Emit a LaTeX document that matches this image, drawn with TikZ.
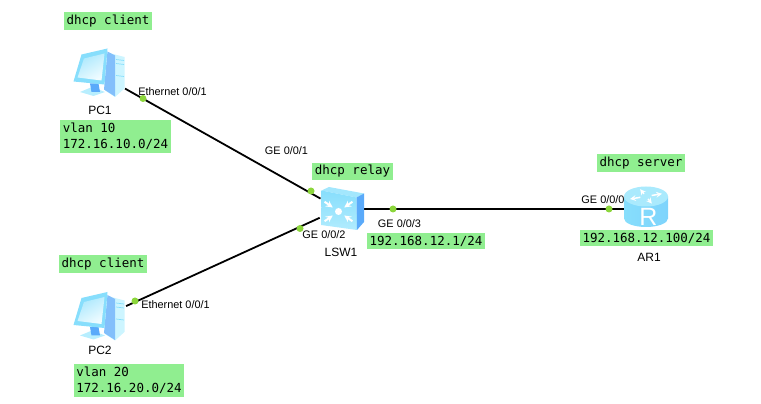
\documentclass[tikz,border=0pt]{standalone}
\usepackage{fontspec}
\usepackage{xcolor}
\setmainfont{Liberation Sans}
\newfontfamily\labelmono{DejaVu Sans Mono}
\definecolor{boxgreen}{RGB}{144,238,144}
\definecolor{portgreen}{RGB}{140,214,60}
\definecolor{iconpale}{RGB}{205,245,255}
\definecolor{iconsky}{RGB}{135,222,252}
\definecolor{iconblue}{RGB}{90,170,250}

\begin{document}
\begin{tikzpicture}[line join=bevel,
        devicenode/.style={shape=circle, inner sep=0pt},
        portdot/.style={shape=circle, fill=portgreen, inner sep=0pt, minimum size=7pt},
        labelbox/.style={fill=boxgreen, font=\labelmono\fontsize{12.5pt}{16.5pt}\selectfont, align=left, inner xsep=2.5pt, inner ysep=2.5pt},
        portlabel/.style={inner sep=0pt, font=\fontsize{10.9pt}{13pt}\selectfont},
        namelabel/.style={inner sep=0pt, font=\fontsize{12pt}{14pt}\selectfont},
        pcicon/.pic={
          % tower
          \fill[iconpale] (7pt, 22pt) -- (15pt, 20pt) -- (24.5pt, 17.5pt) -- (24.5pt, -14pt) -- (15pt, -22.5pt) -- (5pt, -16pt) -- cycle;
          \fill[iconblue!75] (7.5pt, 23pt) -- (15pt, 19pt) -- (15pt, -22pt) -- (4pt, -15pt) -- cycle;
          \foreach \y in {15pt, 11pt, -1pt} {
            \draw[iconsky, line width=.7pt] (16pt, \y) -- (24pt, \y - 1pt);
          }
          % stand
          \fill[iconpale!70!iconsky] (-20pt, -17.5pt) -- (-8pt, -12.5pt) -- (5pt, -17.5pt) -- (-6.5pt, -21.5pt) -- cycle;
          \fill[iconblue] (-10pt, -9pt) -- (-1.5pt, -9pt) -- (0pt, -17.5pt) -- (-8.5pt, -17.5pt) -- cycle;
          % screen
          \fill[iconsky] (-18.5pt, 20pt) -- (7.5pt, 26pt) -- (4.5pt, -10pt) -- (-26.5pt, -7pt) -- cycle;
          \shade[top color=iconsky!70, bottom color=iconpale!30, shading angle=30] (-16pt, 16pt) -- (4.5pt, 21pt) -- (1.5pt, -6pt) -- (-22.5pt, -3pt) -- cycle;
        },
        switchicon/.pic={
          \fill[iconsky!60!iconpale] (-17.5pt, 18.5pt) -- (-10pt, 22pt) -- (25pt, 15.5pt) -- (17.5pt, 11.5pt) -- cycle;
          \shade[top color=iconsky, bottom color=iconsky!40!iconpale] (-17.5pt, 18.5pt) -- (17.5pt, 11.5pt) -- (18pt, -21pt) -- (-18pt, -16pt) -- cycle;
          \fill[iconblue] (17.5pt, 11.5pt) -- (25pt, 15.5pt) -- (25pt, -13pt) -- (18pt, -21pt) -- cycle;
          \fill[white] (-.5pt, -2.5pt) circle (3.5pt);
          \foreach \a in {35, 145, 215, 325} {
            \draw[white, line width=2pt, -stealth] (\a:17pt) ++(-.5pt, -2.5pt) -- ++(\a:-10pt);
          }
        },
        routericon/.pic={
          \shade[left color=iconsky, right color=iconsky!80!iconblue] (-23pt, 12.5pt) -- (-23pt, -9.5pt) arc[start angle=180, end angle=360, x radius=22pt, y radius=8.5pt] -- (21pt, 12.5pt) -- cycle;
          \fill[iconpale!50!iconsky] (-1pt, 12.5pt) ellipse (22pt and 10pt);
          \foreach \a in {20, 110, 200, 290} {
            \draw[white, line width=1.5pt, -stealth, yscale=.45] (-1pt, 28pt) ++(\a:6pt) -- ++(\a:11pt);
          }
          \node[text=white, font=\fontsize{25pt}{25pt}\selectfont] (Rletter) at (1.5pt, -8pt) {R};
        }]
        \useasboundingbox (0pt, 0pt) rectangle (761pt, 404pt);
        % Devices
        \node[devicenode, minimum size=57pt] (PC1) at (100pt, 329.5pt) {};
        \node[devicenode, minimum size=57pt] (PC2) at (100pt, 86pt) {};
        \node[devicenode, minimum size=42pt] (LSW1) at (339pt, 195pt) {};
        \node[devicenode, minimum size=42pt] (AR1) at (647pt, 195pt) {};
        % Lines
        \draw[black, line width=1.8pt] (PC1) -- (LSW1);
        \draw[black, line width=1.8pt] (PC2) -- (LSW1);
        \draw[black, line width=1.8pt] (LSW1) -- (AR1);
        % Icons
        \pic at (PC1) {pcicon};
        \pic at (PC2) {pcicon};
        \pic at (LSW1) {switchicon};
        \pic at (AR1) {routericon};
        % Port dots
        \foreach \x/\y/\portname in {143/305.5/dotA, 311/213/dotB, 300/175.5/dotC, 135/103/dotD, 393/195/dotE, 609/195/dotF} {
          \node[portdot] (\portname) at (\x pt, \y pt) {};
        }
        % Port labels
        \node[portlabel] (portA) at (172.5pt, 312pt) {Ethernet 0/0/1};
        \node[portlabel] (portD) at (175.5pt, 99pt) {Ethernet 0/0/1};
        \node[portlabel] (portB) at (286.5pt, 253pt) {GE 0/0/1};
        \node[portlabel] (portC) at (324pt, 169pt) {GE 0/0/2};
        \node[portlabel] (portE) at (399.5pt, 180pt) {GE 0/0/3};
        \node[portlabel] (portF) at (603pt, 204pt) {GE 0/0/0};
        % Device names
        \node[namelabel] (namePC1) at (100pt, 294pt) {PC1};
        \node[namelabel] (namePC2) at (100pt, 54pt) {PC2};
        \node[namelabel] (nameLSW1) at (341pt, 152pt) {LSW1};
        \node[namelabel] (nameAR1) at (649pt, 147pt) {AR1};
        % Green boxes
        \node[labelbox] (clientA) at (108pt, 383pt) {dhcp client};
        \node[labelbox] (clientB) at (103pt, 140pt) {dhcp client};
        \node[labelbox] (relay) at (352.5pt, 232.5pt) {dhcp relay};
        \node[labelbox] (server) at (641pt, 241pt) {dhcp server};
        \node[labelbox] (vlanA) at (115.5pt, 267.5pt) {vlan 10\\172.16.10.0/24};
        \node[labelbox] (vlanB) at (129pt, 23.5pt) {vlan 20\\172.16.20.0/24};
        \node[labelbox] (gwA) at (426pt, 163pt) {192.168.12.1/24};
        \node[labelbox] (gwB) at (646.5pt, 166pt) {192.168.12.100/24};
\end{tikzpicture}
\end{document}
